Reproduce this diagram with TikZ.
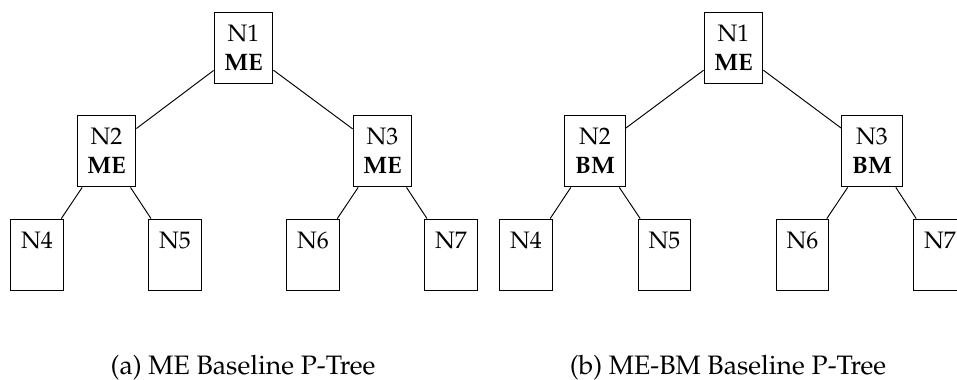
\documentclass[tikz,border=0pt]{standalone}
\usepackage[T1]{fontenc}
\usepackage{mathpazo}
\usepackage{tikz}

\begin{document}
\begin{tikzpicture}[x=0.42pt, y=-0.42pt]
        \useasboundingbox (0,0) rectangle (957,380);
        \tikzstyle{TreeNode} = [draw, thin, align=center, inner xsep=4.3pt, minimum height=30.2pt]
        \tikzstyle{Caption} = [anchor=base, inner sep=0pt, font=\fontsize{11.2}{13}\selectfont]
        % (a) ME baseline
        \node[TreeNode] (a1) at (243.5,48) {N1\\\textbf{ME}};
        \node[TreeNode] (a2) at (106.5,151) {N2\\\textbf{ME}};
        \node[TreeNode] (a3) at (382.5,151) {N3\\\textbf{ME}};
        \node[TreeNode] (a4) at (37,255) {N4\\\vphantom{\textbf{ME}}};
        \node[TreeNode] (a5) at (175,255) {N5\\\vphantom{\textbf{ME}}};
        \node[TreeNode] (a6) at (313,255) {N6\\\vphantom{\textbf{ME}}};
        \node[TreeNode] (a7) at (451,255) {N7\\\vphantom{\textbf{ME}}};
        \draw (a1) -- (a2);
        \draw (a1) -- (a3);
        \draw (a2) -- (a4);
        \draw (a2) -- (a5);
        \draw (a3) -- (a6);
        \draw (a3) -- (a7);
        \node[Caption] (capa) at (243,375) {(a) ME Baseline P-Tree};
        % (b) ME-BM baseline
        \node[TreeNode] (b1) at (733.5,48) {N1\\\textbf{ME}};
        \node[TreeNode] (b2) at (595,151) {N2\\\textbf{BM}};
        \node[TreeNode] (b3) at (872,151) {N3\\\textbf{BM}};
        \node[TreeNode] (b4) at (526,255) {N4\\\vphantom{\textbf{ME}}};
        \node[TreeNode] (b5) at (664.5,255) {N5\\\vphantom{\textbf{ME}}};
        \node[TreeNode] (b6) at (802.5,255) {N6\\\vphantom{\textbf{ME}}};
        \node[TreeNode] (b7) at (940,255) {N7\\\vphantom{\textbf{ME}}};
        \draw (b1) -- (b2);
        \draw (b1) -- (b3);
        \draw (b2) -- (b4);
        \draw (b2) -- (b5);
        \draw (b3) -- (b6);
        \draw (b3) -- (b7);
        \node[Caption] (capb) at (728,375) {(b) ME-BM Baseline P-Tree};
    \end{tikzpicture}
\end{document}
